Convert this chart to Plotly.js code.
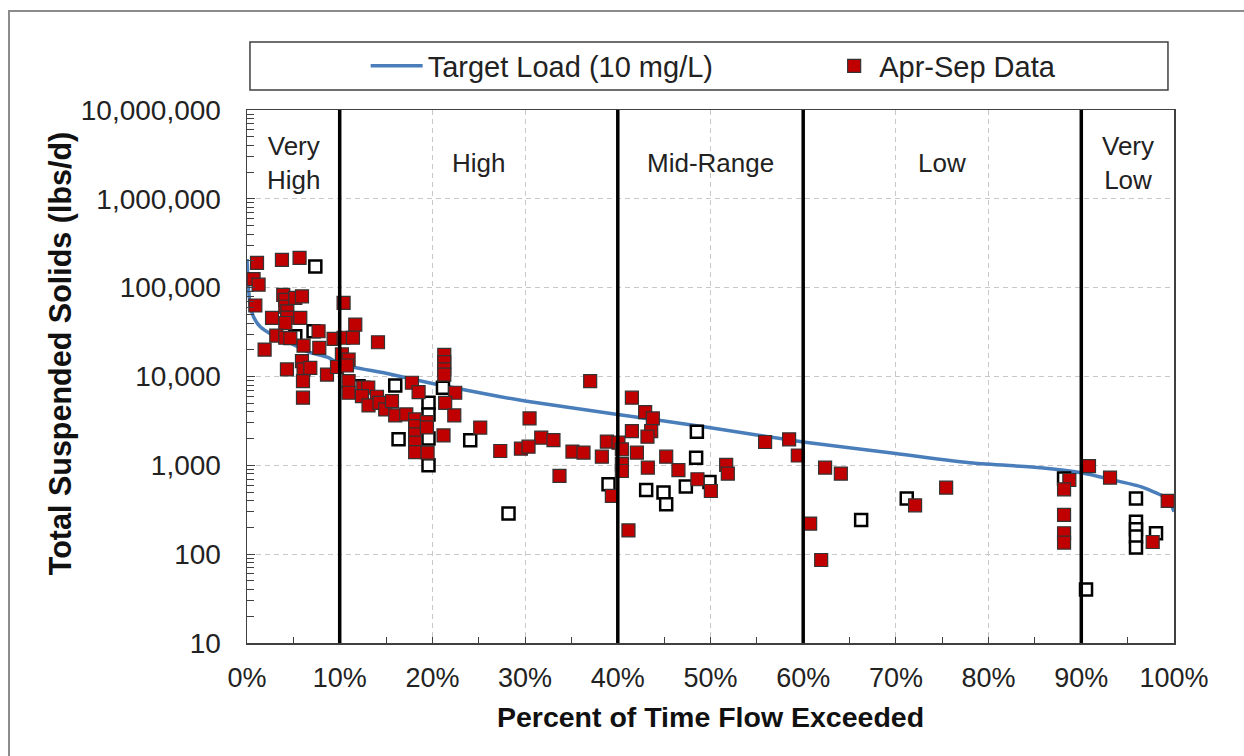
<!DOCTYPE html>
<html>
<head>
<meta charset="utf-8">
<script src="https://cdn.plot.ly/plotly-3.0.1.min.js"></script>
<style>
  html, body { margin: 0; padding: 0; background: #ffffff; }
  #chart { width: 1244px; height: 756px; }
  #frame { position: absolute; left: 8px; top: 10px; width: 1300px; height: 800px;
           border-left: 2px solid #8c8c8c; border-top: 2px solid #8c8c8c; pointer-events: none; }
</style>
</head>
<body>
<div id="chart"></div>
<div id="frame"></div>
<script>
// ---- Target load curve (10 mg/L) ----
const pctTarget  = [0, 0.15, 0.4, 0.7, 1.4, 2.7, 4.6, 6.5, 8.8, 10, 15, 20, 27.2, 30, 40, 50, 60, 70, 78.3, 85.6, 90, 93.1, 96.4, 98.8, 99.5, 100];
const loadTarget = [210000, 100000, 60000, 47000, 36500, 29600, 24100, 19100, 16300, 13800, 10900, 8340, 5960, 5310, 3740, 2650, 1830, 1360, 1060, 940, 825, 697, 575, 452, 400, 300];

// ---- Apr-Sep data (filled red squares) ----
const pctAprSep = [
  1.08, 3.77, 5.67, 0.71, 1.25, 0.90, 3.91, 4.13, 4.13, 4.35, 4.35, 4.13, 5.21, 5.93, 2.70, 5.75,
  3.16, 4.13, 4.67, 7.72, 6.10, 7.80, 1.90, 4.31, 5.93, 6.10, 6.83, 6.04, 6.04, 8.63, 9.34,
  10.42, 11.68, 10.42, 11.43, 14.13, 10.24, 10.96, 9.71, 10.78, 21.28, 21.28, 21.28, 21.28,
  10.96, 10.96, 12.54, 13.08, 17.79, 18.51, 22.46, 12.40, 14.02, 13.11, 14.30, 14.91, 15.64,
  15.99, 17.18, 18.14, 18.14, 18.14, 18.14, 18.14, 19.41, 19.41, 21.20, 21.38, 22.36, 25.16,
  19.48, 27.32, 37.02, 30.48, 31.74, 33.06, 29.55, 30.37, 35.11, 36.30, 38.28, 38.82, 33.71, 39.36,
  40.07, 40.44, 40.44, 40.44, 41.52, 41.52, 42.06, 41.15, 42.95, 43.78, 43.60, 43.20, 45.22,
  43.24, 46.54, 48.59, 51.69, 51.87, 50.04, 55.89, 58.48, 59.42,
  62.36, 64.06, 60.75, 72.07, 75.42, 61.94,
  90.83, 93.10, 88.71, 88.14, 88.14, 88.14, 88.14, 97.70, 99.32
];
const tssAprSep = [
  190000, 206000, 216000, 125000, 108000, 63000, 83000, 73000, 61000, 54000, 46000, 40000, 76600, 79800, 45700, 45700,
  28900, 27300, 27000, 32300, 22300, 21000, 20100, 12000, 14900, 12000, 12500, 8850, 5770, 10500, 26500,
  67300, 38400, 27300, 27300, 24300, 17700, 15500, 12800, 13300, 17500, 14500, 12000, 10500,
  8850, 6560, 7520, 7520, 8500, 6670, 6560, 6010, 5920, 4720, 5060, 4260, 5280,
  3650, 3740, 3290, 2770, 2230, 1800, 1410, 3070, 2670, 2170, 5060, 3650, 2660,
  1390, 1450, 8850, 3370, 2050, 1920, 1540, 1620, 1430, 1390, 1250, 1850, 759, 452,
  1800, 1510, 1030, 863, 5770, 2430, 1390, 185, 3970, 3370, 2430, 2100, 1250,
  942, 885, 697, 1010, 807, 514, 1830, 1960, 1290,
  942, 807, 221, 355, 561, 86,
  982, 728, 684, 537, 277, 172, 135, 137, 397
];

// ---- Other samples (open squares, not in legend) ----
const pctOther = [7.37, 5.21, 7.18, 12.03, 15.99, 21.14, 19.58, 19.58, 19.58, 16.35, 24.08, 19.58, 28.21,
  39.00, 48.53, 48.45, 49.89, 47.34, 43.06, 44.93, 45.22, 66.25, 71.17, 88.14,
  95.90, 95.90, 95.90, 95.90, 95.90, 98.06, 90.51];
const tssOther = [173000, 28400, 32300, 7780, 7930, 7470, 5060, 3740, 2000, 1960, 1910, 1000, 287,
  612, 2390, 1220, 649, 577, 528, 493, 365, 243, 423, 710,
  423, 231, 191, 158, 119, 172, 40];

// ---- Flow regimes ----
const regionNames   = ['Very<br>High', 'High', 'Mid-Range', 'Low', 'Very<br>Low'];
const regionCenters = [5, 25, 50, 75, 95];
const boundaries    = [10, 40, 60, 90];

// ---- Ticks ----
const xTickVals = [0, 10, 20, 30, 40, 50, 60, 70, 80, 90, 100];
const xTickText = ['0%', '10%', '20%', '30%', '40%', '50%', '60%', '70%', '80%', '90%', '100%'];
const xMinorVals = [5, 15, 25, 35, 45, 55, 65, 75, 85, 95];
const yTickVals = [10, 100, 1000, 10000, 100000, 1000000, 10000000];
const yTickText = ['10', '100', '1,000', '10,000', '100,000', '1,000,000', '10,000,000'];
const yMinorVals = [];
yTickVals.slice(0, -1).forEach(d => { for (let k = 2; k <= 9; k++) yMinorVals.push(d * k); });

const yTitleText = '<b>Total Suspended Solids (lbs/d)</b>';
const FONT = 'Liberation Sans, Arial, sans-serif';

const traces = [
  { x: pctTarget, y: loadTarget, type: 'scatter', mode: 'lines', name: 'Target Load (10 mg/L)', legend: 'legend',
    line: { color: '#4A7EBB', width: 3.5, shape: 'spline', smoothing: 0.6 } },
  { x: pctOther, y: tssOther, type: 'scatter', mode: 'markers', name: 'Other Data', showlegend: false,
    marker: { symbol: 'square', size: 12, color: '#ffffff', line: { color: '#000000', width: 2.5 } } },
  { x: pctAprSep, y: tssAprSep, type: 'scatter', mode: 'markers', name: 'Apr-Sep Data', legend: 'legend2',
    marker: { symbol: 'square', size: 13, color: '#C00000', line: { color: '#333333', width: 1.2 } } }
];

const shapes = boundaries.map(b => ({
  type: 'line', xref: 'x', yref: 'paper', x0: b, x1: b, y0: 0, y1: 1,
  line: { color: '#000000', width: 3.5 }
}));
shapes.push({ type: 'rect', xref: 'paper', yref: 'paper', x0: 0.0032, x1: 0.9935, y0: 1.0375, y1: 1.1276,
  line: { color: '#404040', width: 1.5 }, fillcolor: 'rgba(0,0,0,0)' });

const annotations = regionNames.map((n, i) => ({
  x: regionCenters[i], xref: 'x', y: 0.901, yref: 'paper', yanchor: 'middle', text: n, showarrow: false,
  font: { family: FONT, size: 26, color: '#222222' }, align: 'center'
}));
annotations.push({
  x: -0.2017, xref: 'paper', y: 0.542, yref: 'paper', xanchor: 'center', yanchor: 'middle',
  text: yTitleText, textangle: -90, showarrow: false,
  font: { family: FONT, size: 30.5, color: '#111111' }
});

const legendBase = { orientation: 'h', xanchor: 'left', y: 1.0826, yanchor: 'middle',
  bgcolor: 'rgba(0,0,0,0)', borderwidth: 0, font: { family: FONT, size: 29, color: '#222222' } };

const layout = {
  width: 1244, height: 756,
  margin: { l: 247, r: 70, t: 110, b: 113 },
  paper_bgcolor: '#ffffff', plot_bgcolor: '#ffffff',
  font: { family: FONT, size: 27, color: '#222222' },
  showlegend: true,
  legend: Object.assign({}, legendBase, { x: 0.128, itemwidth: 52 }),
  legend2: Object.assign({}, legendBase, { x: 0.628, itemwidth: 40 }),
  xaxis: {
    range: [0, 100], tickmode: 'array', tickvals: xTickVals, ticktext: xTickText,
    ticks: 'inside', ticklen: 6, tickcolor: '#404040', ticklabelstandoff: 10,
    minor: { tickmode: 'array', tickvals: xMinorVals, ticks: 'inside', ticklen: 6, tickcolor: '#404040', showgrid: false },
    showgrid: true, gridcolor: '#c8c8c8', gridwidth: 1, griddash: '5px,4px',
    showline: true, mirror: true, linecolor: '#404040', linewidth: 1.5, zeroline: false,
    tickfont: { family: FONT, size: 27, color: '#222222' },
    title: { text: '<b>Percent of Time Flow Exceeded</b>', font: { family: FONT, size: 28.5, color: '#111111' }, standoff: 15 }
  },
  yaxis: {
    type: 'log', range: [1, 7], tickmode: 'array', tickvals: yTickVals, ticktext: yTickText,
    ticks: 'inside', ticklen: 8, tickcolor: '#404040', ticklabelstandoff: 19,
    minor: { tickmode: 'array', tickvals: yMinorVals, ticks: 'inside', ticklen: 7, tickcolor: '#404040', showgrid: false },
    showgrid: true, gridcolor: '#c8c8c8', gridwidth: 1, griddash: '5px,4px',
    showline: true, mirror: true, linecolor: '#404040', linewidth: 1.5, zeroline: false,
    tickfont: { family: FONT, size: 28, color: '#222222' }
  },
  shapes: shapes,
  annotations: annotations
};

Plotly.newPlot('chart', traces, layout, { displayModeBar: false, staticPlot: true });
</script>
</body>
</html>
